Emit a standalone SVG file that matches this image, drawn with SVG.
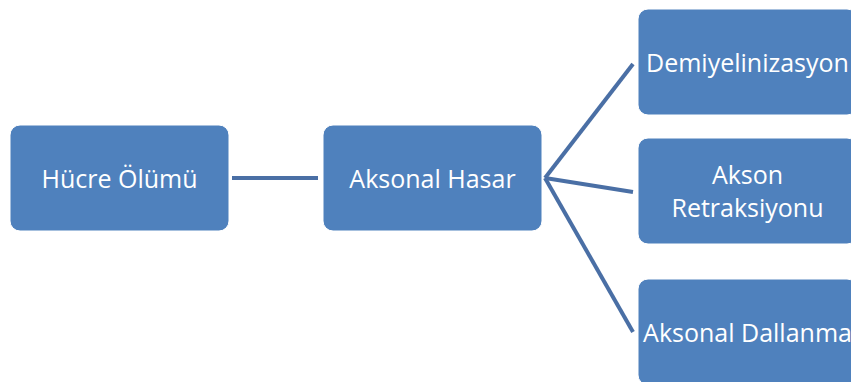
<svg xmlns="http://www.w3.org/2000/svg" width="851" height="382" viewBox="0 0 851 382">
<style>
.box{fill:#4F81BD;stroke:#ffffff;stroke-width:1}
.lbl{font-family:"Open Sans","Noto Sans",sans-serif;font-size:25px;fill:#ffffff;text-anchor:middle;dominant-baseline:central}
.con{stroke:#4A6FA5;stroke-width:4;fill:none}
</style>
<rect width="851" height="382" fill="#ffffff"/>
<g id="connectors">
<line class="con" x1="232" y1="178" x2="318" y2="178"/>
<line class="con" x1="545" y1="178" x2="633" y2="64"/>
<line class="con" x1="545" y1="178" x2="633" y2="192"/>
<line class="con" x1="545" y1="178" x2="633" y2="332"/>
</g>
<g id="hucre">
<rect class="box" x="10" y="125" width="219" height="106" rx="10"/>
<text class="lbl" x="119.5" y="178">Hücre Ölümü</text>
</g>
<g id="hasar">
<rect class="box" x="323" y="125" width="219" height="106" rx="10"/>
<text class="lbl" x="432.5" y="178">Aksonal Hasar</text>
</g>
<g id="demiyel">
<rect class="box" x="638" y="9" width="219" height="106" rx="10"/>
<text class="lbl" x="747.5" y="62">Demiyelinizasyon</text>
</g>
<g id="retraksiyon">
<rect class="box" x="638" y="138" width="219" height="106" rx="10"/>
<text class="lbl" x="747.5" y="174">Akson</text>
<text class="lbl" x="747.5" y="207">Retraksiyonu</text>
</g>
<g id="dallanma">
<rect class="box" x="638" y="279" width="219" height="106" rx="10"/>
<text class="lbl" x="747.5" y="332">Aksonal Dallanma</text>
</g>
</svg>
